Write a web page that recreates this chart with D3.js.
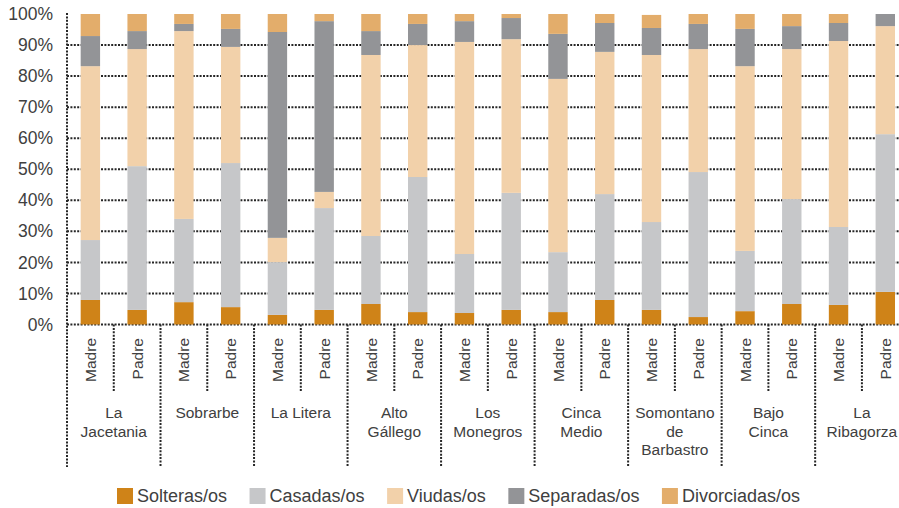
<!DOCTYPE html>
<html>
<head>
<meta charset="utf-8">
<script src="https://cdn.jsdelivr.net/npm/d3@7"></script>
<style>
  html, body { margin: 0; padding: 0; background: #fff; overflow: hidden; }
  svg { display: block; font-family: "Liberation Sans", Arial, Helvetica, sans-serif; }
</style>
</head>
<body>
<svg id="chart" width="899" height="508"></svg>
<script>
// ---- data ----
const comarcas = [
  ["La", "Jacetania"], ["Sobrarbe"], ["La Litera"], ["Alto", "Gállego"],
  ["Los", "Monegros"], ["Cinca", "Medio"], ["Somontano", "de", "Barbastro"],
  ["Bajo", "Cinca"], ["La", "Ribagorza"]
];
const roles = ["Madre", "Padre"];
const seriesNames = ["Solteras/os", "Casadas/os", "Viudas/os", "Separadas/os", "Divorciadas/os"];
const solteras    = [7.9, 4.7, 7.2, 5.6, 3.1, 4.7, 6.6, 4.0, 3.7, 4.7, 4.0, 7.9, 4.7, 2.4, 4.3, 6.6, 6.3, 10.5];
const casadas     = [19.3, 46.3, 26.8, 46.4, 17.0, 32.8, 21.9, 43.5, 19.0, 37.7, 19.3, 34.1, 28.3, 46.7, 19.4, 33.8, 25.1, 50.8];
const viudas      = [56.0, 37.7, 60.5, 37.4, 7.8, 5.2, 58.3, 42.5, 68.3, 49.5, 55.8, 45.8, 53.8, 39.6, 59.5, 48.3, 59.9, 34.8];
const separadas   = [9.7, 5.8, 2.3, 5.8, 66.3, 55.0, 7.7, 6.8, 6.7, 6.8, 14.5, 9.3, 8.7, 8.1, 12.0, 7.4, 5.8, 3.9];
const divorciadas = [7.1, 5.5, 3.2, 4.8, 5.8, 2.3, 5.5, 3.2, 2.3, 1.3, 6.4, 2.9, 4.2, 3.2, 4.8, 3.9, 2.9, 0];
const yTicks = [0, 10, 20, 30, 40, 50, 60, 70, 80, 90, 100];
const colors = ["#CF8318", "#C6C7C9", "#F2D1AA", "#939497", "#E3AD6B"];

// ---- build table ----
const seriesValues = [solteras, casadas, viudas, separadas, divorciadas];
const rows = [];
comarcas.forEach((c, ci) => roles.forEach((r, ri) => {
  const idx = ci * roles.length + ri;
  const row = { key: idx, comarca: ci, role: r };
  seriesNames.forEach((s, si) => row[s] = seriesValues[si][idx]);
  rows.push(row);
}));

const svg = d3.select("#chart");
const textColor = "#404040";
const gridColor = "#262626";
const left = 67, step = 46.76;
const right = left + step * rows.length;
const yTop = 14, yBase = 324.5;

const x = d3.scaleBand().domain(rows.map(d => d.key)).range([left, right]).paddingInner(0.585).paddingOuter(0.2925);
const y = d3.scaleLinear().domain([0, 100]).range([yBase, yTop]);

// gridlines (10%..90% and baseline)
const grid = svg.append("g");
grid.selectAll("line").data(yTicks.filter(t => t < 100)).join("line")
  .attr("x1", left).attr("x2", right)
  .attr("y1", d => y(d)).attr("y2", d => y(d))
  .attr("stroke", gridColor).attr("stroke-width", 2).attr("stroke-dasharray", "2,1.4");

// y axis via d3.axisLeft
const yAxis = svg.append("g").attr("transform", `translate(${left - 14},0)`)
  .call(d3.axisLeft(y).tickValues(yTicks).tickFormat(d => d + "%").tickSize(0).tickPadding(0));
yAxis.select(".domain").remove();
yAxis.selectAll("text").attr("fill", textColor).style("font-size", "17.5px")
  .attr("dy", "0.32em").style("font-family", "'Liberation Sans', Arial, sans-serif");

// stacked bars
const stack = d3.stack().keys(seriesNames);
const stacked = stack(rows);
svg.append("g").selectAll("g").data(stacked).join("g")
  .attr("fill", (d, i) => colors[i])
  .selectAll("rect").data(d => d).join("rect")
  .attr("x", d => x(d.data.key))
  .attr("width", x.bandwidth())
  .attr("y", d => y(d[1]))
  .attr("height", d => Math.max(0, y(d[0]) - y(d[1])));

// left vertical axis line
const vlines = svg.append("g").attr("stroke", gridColor).attr("stroke-width", 2).attr("stroke-dasharray", "2,1.4");
vlines.append("line").attr("x1", left).attr("x2", left).attr("y1", yTop - 1).attr("y2", 467);
// group separators
const groupEdges = d3.range(1, comarcas.length + 1).map(g => left + g * roles.length * step);
vlines.selectAll(".g").data(groupEdges).join("line").attr("class", "g")
  .attr("x1", d => d).attr("x2", d => d).attr("y1", yBase).attr("y2", 467);
// sub separators
const subEdges = comarcas.map((c, g) => left + (g * roles.length + 1) * step);
vlines.selectAll(".s").data(subEdges).join("line").attr("class", "s")
  .attr("x1", d => d).attr("x2", d => d).attr("y1", yBase).attr("y2", 391);

// role labels (rotated)
svg.append("g").selectAll("text").data(rows).join("text")
  .attr("transform", d => `translate(${x(d.key) + x.bandwidth() / 2},338) rotate(-90)`)
  .attr("text-anchor", "end").attr("dy", "0.36em")
  .attr("fill", textColor).style("font-size", "15.5px")
  .text(d => d.role);

// comarca labels
const cl = svg.append("g").selectAll("text").data(comarcas).join("text")
  .attr("text-anchor", "middle")
  .attr("fill", textColor).style("font-size", "15.5px")
  .attr("x", (d, i) => left + (i * roles.length + roles.length / 2) * step)
  .attr("y", 418);
cl.selectAll("tspan").data(d => d).join("tspan")
  .attr("x", function () { return d3.select(this.parentNode).attr("x"); })
  .attr("dy", (d, i) => i === 0 ? 0 : 18.5)
  .text(d => d);

// legend
const legend = svg.append("g");
let lx = 117;
seriesNames.forEach((name, i) => {
  const g = legend.append("g").attr("transform", `translate(${lx},0)`);
  g.append("rect").attr("x", 0).attr("y", 488).attr("width", 16).attr("height", 16).attr("fill", colors[i]);
  const t = g.append("text").attr("x", 20).attr("y", 496).attr("dy", "0.36em")
    .attr("fill", textColor).style("font-size", "18px").text(name);
  lx += 20 + t.node().getComputedTextLength() + 22.5;
});
</script>
</body>
</html>
